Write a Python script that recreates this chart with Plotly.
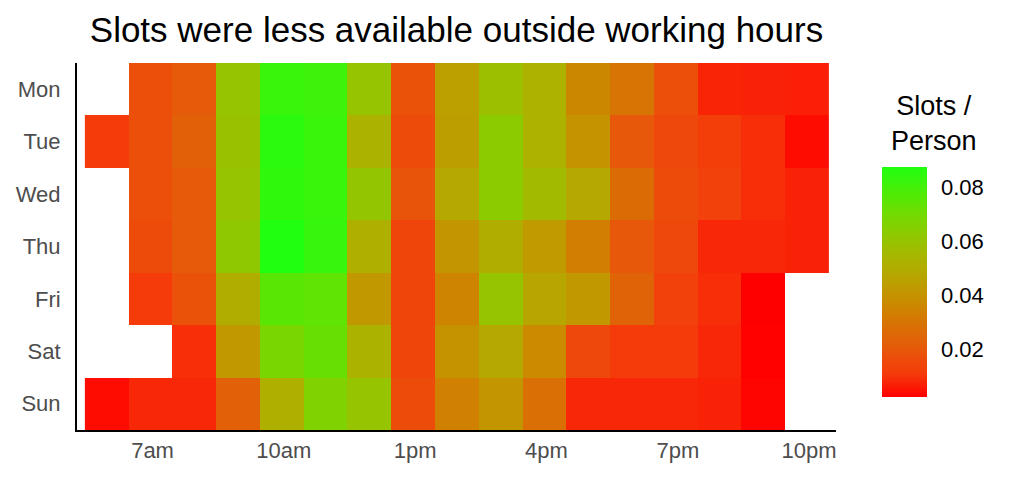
import plotly.graph_objects as go

hours = [6, 7, 8, 9, 10, 11, 12, 13, 14, 15, 16, 17, 18, 19, 20, 21, 22]
days = ["Mon", "Tue", "Wed", "Thu", "Fri", "Sat", "Sun"]
tick_hours = [7, 10, 13, 16, 19, 22]
tick_text = ["7am", "10am", "1pm", "4pm", "7pm", "10pm"]
cbar_ticks = [0.02, 0.04, 0.06, 0.08]

N = None
mon = [N, 0.017, 0.021, 0.060, 0.082, 0.081, 0.060, 0.018, 0.045, 0.058, 0.052, 0.036, 0.030, 0.017, 0.0075, 0.0072, 0.0068]
tue = [0.011, 0.017, 0.023, 0.059, 0.085, 0.082, 0.053, 0.016, 0.044, 0.063, 0.052, 0.040, 0.020, 0.015, 0.012, 0.009, 0.004]
wed = [N, 0.017, 0.021, 0.060, 0.084, 0.082, 0.061, 0.019, 0.048, 0.063, 0.056, 0.048, 0.027, 0.016, 0.013, 0.009, 0.007]
thu = [N, 0.016, 0.021, 0.062, 0.0874, 0.083, 0.051, 0.014, 0.041, 0.050, 0.043, 0.033, 0.020, 0.015, 0.008, 0.008, 0.007]
fri = [N, 0.011, 0.018, 0.050, 0.075, 0.074, 0.042, 0.014, 0.035, 0.060, 0.047, 0.042, 0.024, 0.013, 0.009, 0.0022, N]
sat = [N, N, 0.009, 0.042, 0.068, 0.072, 0.053, 0.014, 0.040, 0.048, 0.037, 0.015, 0.011, 0.011, 0.008, 0.0025, N]
sun = [0.004, 0.008, 0.008, 0.023, 0.051, 0.066, 0.060, 0.016, 0.034, 0.041, 0.028, 0.008, 0.008, 0.008, 0.007, 0.003, N]

colorscale = [
    [0.0, "#FF0000"],
    [0.1, "#F53A0A"],
    [0.2, "#E8560A"],
    [0.3, "#DA6E05"],
    [0.4, "#CC8800"],
    [0.5, "#BBA000"],
    [0.6, "#AAB400"],
    [0.7, "#90C800"],
    [0.8, "#70DC00"],
    [0.9, "#48EE08"],
    [1.0, "#20FF10"],
]

z = [mon, tue, wed, thu, fri, sat, sun]

FONT = "Liberation Sans, Arial, sans-serif"

fig = go.Figure(
    go.Heatmap(
        x=hours,
        y=days,
        z=z,
        colorscale=colorscale,
        hoverongaps=False,
        colorbar=dict(
            thickness=45,
            thicknessmode="pixels",
            len=230,
            lenmode="pixels",
            x=1.0606,
            xanchor="left",
            y=0.403,
            yanchor="middle",
            outlinewidth=0,
            xpad=0,
            ypad=0,
            tickmode="array",
            tickvals=cbar_ticks,
            tickformat=".2f",
            ticks="outside",
            ticklen=10,
            tickwidth=1,
            tickcolor="rgba(255,255,255,0)",
            tickfont=dict(family=FONT, size=22, color="black"),
        ),
    )
)

fig.update_layout(
    width=1017,
    height=480,
    margin=dict(l=69, r=189, t=55, b=58, autoexpand=False),
    paper_bgcolor="white",
    plot_bgcolor="white",
    font=dict(family=FONT),
    title=dict(
        text="Slots were less available outside working hours",
        font=dict(size=35, color="black"),
        x=0.5,
        xref="paper",
        xanchor="center",
        y=1 - 22 / 480,
        yref="container",
        yanchor="middle",
        automargin=False,
    ),
    annotations=[
        dict(
            text="Slots /<br>Person",
            x=1.129,
            y=0.8365,
            xref="paper",
            yref="paper",
            xanchor="center",
            yanchor="middle",
            align="center",
            showarrow=False,
            font=dict(size=27, color="black"),
        )
    ],
)

fig.update_xaxes(
    range=[5.32, 22.66],
    tickvals=tick_hours,
    ticktext=tick_text,
    showline=True,
    linecolor="black",
    linewidth=2,
    ticks="",
    showgrid=False,
    zeroline=False,
    automargin=False,
    ticklabelshift=2,
    tickfont=dict(size=22, color="#4D4D4D"),
)
fig.update_yaxes(
    autorange="reversed",
    showline=True,
    linecolor="black",
    linewidth=2,
    ticks="",
    showgrid=False,
    zeroline=False,
    automargin=False,
    ticklabelstandoff=10,
    tickfont=dict(size=22, color="#4D4D4D"),
)

fig.write_html("out.html")
